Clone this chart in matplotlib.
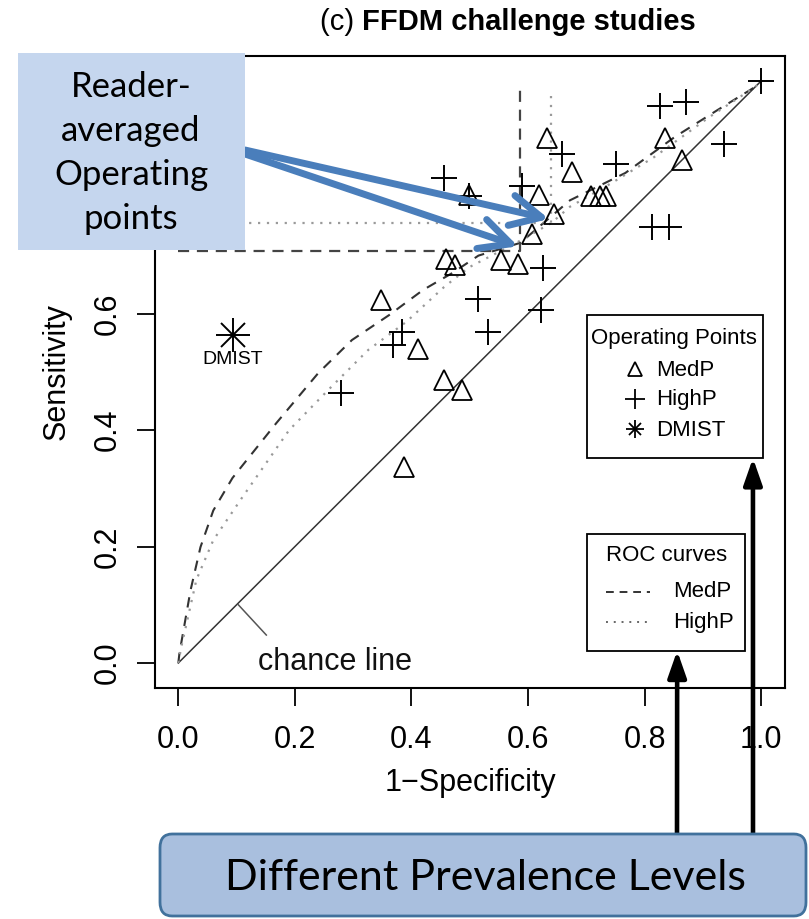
import numpy as np
import matplotlib.pyplot as plt
from matplotlib.patches import Rectangle, FancyBboxPatch

plt.rcParams['font.family'] = ['Liberation Sans', 'DejaVu Sans']

# reader operating points, MedP (triangles) and HighP (plus)
medp_fpf = [0.633, 0.835, 0.864, 0.676, 0.499, 0.619, 0.708, 0.724, 0.734, 0.645,
            0.607, 0.460, 0.475, 0.554, 0.583, 0.348, 0.412, 0.456, 0.487, 0.388]
medp_tpf = [0.902, 0.902, 0.864, 0.844, 0.804, 0.804, 0.802, 0.802, 0.802, 0.771,
            0.737, 0.694, 0.684, 0.692, 0.686, 0.624, 0.540, 0.486, 0.469, 0.337]
highp_fpf = [1.000, 0.827, 0.871, 0.937, 0.659, 0.751, 0.456, 0.590, 0.499, 0.813,
             0.842, 0.626, 0.515, 0.623, 0.384, 0.532, 0.369, 0.280]
highp_tpf = [1.000, 0.957, 0.964, 0.892, 0.875, 0.857, 0.833, 0.820, 0.802, 0.749,
             0.749, 0.679, 0.625, 0.607, 0.569, 0.569, 0.546, 0.464]
dmist = (0.093, 0.564)

# reader-averaged operating points
medp_avg = (0.587, 0.708)
highp_avg = (0.640, 0.756)

# ROC curves
roc_medp_x = [0.0, 0.002, 0.021, 0.038, 0.060, 0.093, 0.168, 0.240, 0.298, 0.362,
              0.420, 0.470, 0.515, 0.587, 0.672, 0.767, 0.852, 0.925, 0.990, 1.0]
roc_medp_y = [0.0, 0.017, 0.125, 0.199, 0.262, 0.318, 0.412, 0.498, 0.555, 0.598,
              0.641, 0.670, 0.700, 0.722, 0.795, 0.842, 0.904, 0.950, 0.990, 1.0]
roc_highp_x = [0.0, 0.005, 0.031, 0.060, 0.110, 0.190, 0.262, 0.326, 0.391, 0.456,
               0.499, 0.580, 0.640, 0.672, 0.744, 0.816, 0.911, 0.990, 1.0]
roc_highp_y = [0.0, 0.027, 0.143, 0.211, 0.285, 0.400, 0.474, 0.538, 0.586, 0.646,
               0.680, 0.722, 0.756, 0.784, 0.825, 0.869, 0.938, 0.990, 1.0]

ticks = [0.0, 0.2, 0.4, 0.6, 0.8, 1.0]
# 0.8 and 1.0 on the y axis sit under the callout box
xtick_labels = ['0.0', '0.2', '0.4', '0.6', '0.8', '1.0']
ytick_labels = ['0.0', '0.2', '0.4', '0.6', '', '']

W, H = 809, 919
fig = plt.figure(figsize=(W / 100, H / 100), dpi=100)
ax = fig.add_axes([155 / W, 1 - 688 / H, 630 / W, 632 / H])
ax.set_xlim(-0.04, 1.041)
ax.set_ylim(-0.043, 1.043)

# chance line + its label
ax.plot([0, 1], [0, 1], color='#333333', lw=1.1)
ax.plot([0.103, 0.151], [0.100, 0.048], color='#555555', lw=1.1)
ax.text(0.136, 0.002, 'chance line', fontsize=22, va='center', ha='left', color='#111111')

# ROC curves
ax.plot(roc_medp_x, roc_medp_y, color='#333333', lw=1.5, ls=(0, (5, 4)))
ax.plot(roc_highp_x, roc_highp_y, color='#999999', lw=1.6, ls=(0, (1, 3)))

# reference lines at the averaged operating points
ax.plot([0, medp_avg[0], medp_avg[0]], [medp_avg[1], medp_avg[1], 0.985],
        color='#444444', lw=1.6, ls=(0, (5, 3.5)))
ax.plot([0, highp_avg[0], highp_avg[0]], [highp_avg[1], highp_avg[1], 0.985],
        color='#9a9a9a', lw=1.6, ls=(0, (1, 3)))

# points
ax.plot(medp_fpf, medp_tpf, ls='none', marker='^', ms=14, mfc='none', mec='black', mew=1.3)
ax.plot(highp_fpf, highp_tpf, ls='none', marker='+', ms=19, mec='black', mew=1.4)
ax.plot(*dmist, ls='none', marker='+', ms=24, mec='black', mew=1.4)
ax.plot(*dmist, ls='none', marker='x', ms=17, mec='black', mew=1.4)
ax.text(dmist[0], 0.521, 'DMIST', fontsize=14, ha='center', va='center')

# legend: operating points
ax.add_patch(Rectangle((0.702, 0.352), 0.301, 0.246, fill=False, ec='black', lw=1.3))
ax.text(0.851, 0.558, 'Operating Points', fontsize=16, ha='center', va='center')
ax.plot(0.784, 0.505, marker='^', ms=10, mfc='none', mec='black', mew=1.3)
ax.plot(0.784, 0.453, marker='+', ms=14, mec='black', mew=1.3)
ax.plot(0.784, 0.402, marker='+', ms=13, mec='black', mew=1.3)
ax.plot(0.784, 0.402, marker='x', ms=9, mec='black', mew=1.3)
for yy, lab in zip([0.503, 0.452, 0.400], ['MedP', 'HighP', 'DMIST']):
    ax.text(0.820, yy, lab, fontsize=16, ha='left', va='center')

# legend: ROC curves
ax.add_patch(Rectangle((0.702, 0.021), 0.271, 0.201, fill=False, ec='black', lw=1.3))
ax.text(0.837, 0.184, 'ROC curves', fontsize=16, ha='center', va='center')
ax.plot([0.734, 0.810], [0.122, 0.122], color='#333333', lw=1.4, ls=(0, (4, 3)))
ax.plot([0.734, 0.810], [0.070, 0.070], color='#666666', lw=1.4, ls=(0, (1, 3)))
ax.text(0.849, 0.122, 'MedP', fontsize=16, ha='left', va='center')
ax.text(0.849, 0.070, 'HighP', fontsize=16, ha='left', va='center')

# axes in R style
ax.set_xticks(ticks)
ax.set_xticklabels(xtick_labels, fontsize=22)
ax.set_yticks(ticks)
ax.set_yticklabels(ytick_labels, fontsize=22, rotation=90, va='center')
ax.tick_params(length=13, width=1.3, direction='out', pad=10)
ax.tick_params(axis='x', pad=14)
for sp in ax.spines.values():
    sp.set_linewidth(1.5)
ax.set_xlabel('1\u2212Specificity', fontsize=22, va='center')
ax.xaxis.set_label_coords(0.5, -0.150)
ax.set_ylabel('Sensitivity', fontsize=22, va='center')
ax.yaxis.set_label_coords(-0.156, 0.5)

# title: "(c)" plain, rest bold
t1 = fig.text(320 / W, 1 - 22 / H, '(c) ', fontsize=21, ha='left', va='center')
fig.canvas.draw()
bb = t1.get_window_extent()
fig.text(bb.x1 / W, 1 - 22 / H, 'FFDM challenge studies', fontsize=21,
         fontweight='bold', ha='left', va='center')

# callout box with arrows
fig.add_artist(Rectangle((18 / W, 1 - 250 / H), 227 / W, 197 / H,
                         transform=fig.transFigure, fc='#C5D6EE', ec='none', zorder=5))
fig.text(131 / W, 1 - 153 / H, 'Reader-\naveraged\nOperating\npoints', family='Lato',
         fontsize=25, ha='center', va='center', linespacing=1.45, zorder=6)
blue = '#4A7EBB'
for tip, start in [((0.636, 0.763), (245, 150)), ((0.583, 0.716), (245, 154))]:
    ax.annotate('', xy=tip, xycoords='data', xytext=(start[0] / W, 1 - start[1] / H),
                textcoords='figure fraction', annotation_clip=False, zorder=7,
                arrowprops=dict(arrowstyle='->,head_length=1.1,head_width=0.55',
                                mutation_scale=20, lw=5, color=blue,
                                shrinkA=0, shrinkB=0))

# prevalence box with black arrows
fig.add_artist(FancyBboxPatch((160 / W, 1 - 916 / H), 646 / W, 82 / H,
                              boxstyle='round,pad=0,rounding_size=0.015',
                              transform=fig.transFigure, fc='#A9BFDE', ec='#41719C',
                              lw=2, zorder=5))
fig.text(485 / W, 1 - 878 / H, 'Different Prevalence Levels', family='Lato',
         fontsize=31, ha='center', va='center', zorder=6)
for tip, x0 in [((0.856, 0.021), 677), ((0.986, 0.352), 753)]:
    ax.annotate('', xy=tip, xycoords='data', xytext=(x0 / W, 1 - 833 / H),
                textcoords='figure fraction', annotation_clip=False, zorder=7,
                arrowprops=dict(arrowstyle='-|>,head_length=0.8,head_width=0.28',
                                mutation_scale=20, lw=3.3, color='black',
                                shrinkA=0, shrinkB=0))

fig.savefig('out.png', dpi=100)
